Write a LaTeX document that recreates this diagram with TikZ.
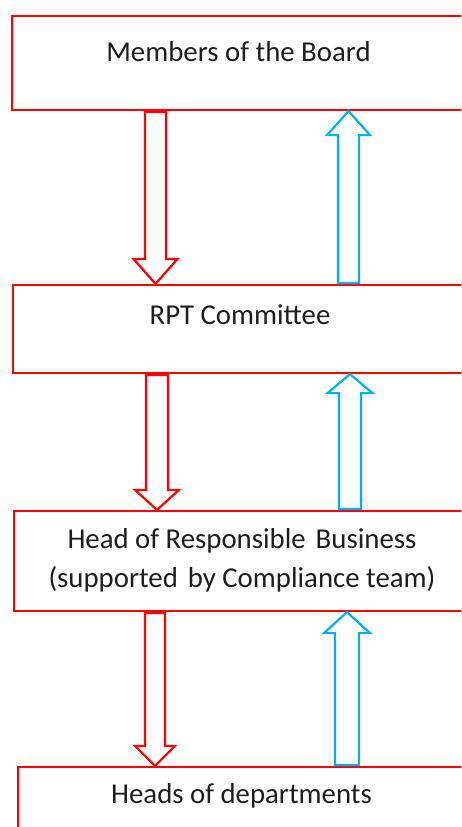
\documentclass[tikz,border=0pt]{standalone}
\usepackage{fontspec}
\setmainfont{Carlito}
\usetikzlibrary{calc}
\definecolor{boxred}{HTML}{FF0000}
\definecolor{upblue}{HTML}{00B0F0}
\definecolor{txt}{HTML}{1E1E1E}
\tikzset{
  boxnode/.style={draw=boxred, line width=2.2pt, rectangle, inner sep=0pt, fill=white},
  label/.style={text=txt, font=\fontsize{28.8}{39}\selectfont, inner sep=0pt, anchor=base, align=center},
  downarr/.style={draw=boxred, line width=2.2pt, fill=white, line join=miter},
  uparr/.style={draw=upblue, line width=2.2pt, fill=white, line join=miter}
}
% #1 style, #2 centre x (pt), #3 upper node, #4 lower node, #5 shaft half width, #6 head half width, #7 head length
\newcommand\blockdown[7]{%
  \path[#1] let \p1=(#3.south), \p2=(#4.north) in
    (#2pt-#5pt,\y1-1pt) -- (#2pt+#5pt,\y1-1pt) -- (#2pt+#5pt,\y2+#7pt) -- (#2pt+#6pt,\y2+#7pt)
    -- (#2pt,\y2) -- (#2pt-#6pt,\y2+#7pt) -- (#2pt-#5pt,\y2+#7pt) -- cycle;}
\newcommand\blockup[7]{%
  \path[#1] let \p1=(#3.south), \p2=(#4.north) in
    (#2pt-#5pt,\y2+1pt) -- (#2pt+#5pt,\y2+1pt) -- (#2pt+#5pt,\y1-#7pt) -- (#2pt+#6pt,\y1-#7pt)
    -- (#2pt,\y1) -- (#2pt-#6pt,\y1-#7pt) -- (#2pt-#5pt,\y1-#7pt) -- cycle;}
\begin{document}
\begin{tikzpicture}[x=1pt,y=-1pt]
\useasboundingbox (0,0) rectangle (461,827);
\clip (0,0) rectangle (461,827);
% boxes
\node[boxnode, minimum width=451pt, minimum height=94pt] (b1) at (237.5,63) {};
\node[boxnode, minimum width=450pt, minimum height=88pt] (b2) at (238,329) {};
\node[boxnode, minimum width=449pt, minimum height=100pt] (b3) at (238.5,561) {};
\node[boxnode, minimum width=445pt, minimum height=80pt] (b4) at (240.5,807) {};
% texts
\node[label] (t1) at (238.5,61) {Members of the Board};
\node[label] (t2) at (240,324) {RPT Committee};
\node[label] (t3) at (242,587) {Head of Responsible\hspace{10pt}Business\\(supported\hspace{10pt}by Compliance team)};
\node[label] (t4) at (241.5,803) {Heads of departments};
% arrows
\blockdown{downarr}{155.5}{b1}{b2}{10.5}{22}{25}
\blockup{uparr}{348.5}{b1}{b2}{10.5}{21.5}{24}
\blockdown{downarr}{157}{b2}{b3}{11}{22}{20}
\blockup{uparr}{350}{b2}{b3}{11}{22.5}{19}
\blockdown{downarr}{155}{b3}{b4}{10}{20}{20}
\blockup{uparr}{347}{b3}{b4}{12}{23}{21}
\end{tikzpicture}
\end{document}
